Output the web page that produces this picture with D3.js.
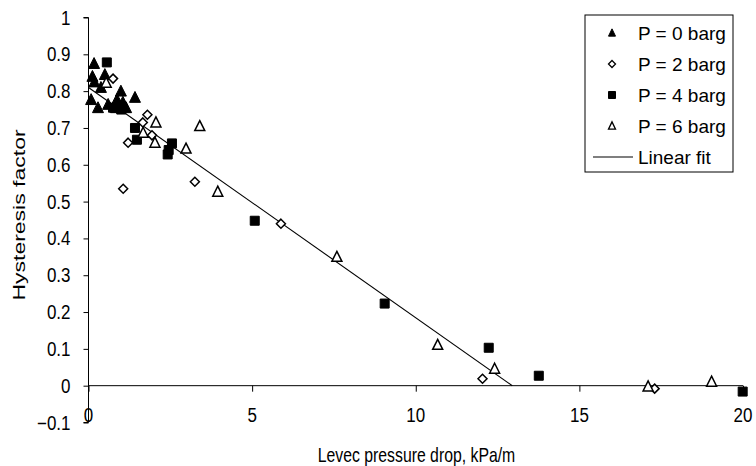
<!DOCTYPE html>
<html>
<head>
<meta charset="utf-8">
<script src="https://cdn.jsdelivr.net/npm/d3@7"></script>
<style>
  body { margin: 0; background: #fff; }
  svg { font-family: "Liberation Sans", Arial, sans-serif; }
</style>
</head>
<body>
<div id="chart"></div>
<script>
// data: [pressure drop kPa/m, hysteresis factor]
const p0 = [[0.17, 0.875], [0.12, 0.84], [0.18, 0.825], [0.5, 0.845], [0.38, 0.81], [0.08, 0.777],
    [0.29, 0.755], [0.6, 0.764], [0.87, 0.777], [0.99, 0.80], [0.84, 0.755], [1.15, 0.755],
    [1.42, 0.783], [1.05, 0.77]];
const p2 = [[0.75, 0.834], [1.8, 0.736], [1.66, 0.715], [1.94, 0.68], [1.21, 0.66], [1.06, 0.535],
    [3.25, 0.554], [5.88, 0.44], [12.04, 0.019], [17.3, -0.008]];
const p4 = [[0.56, 0.878], [0.75, 0.755], [1.0, 0.75], [1.42, 0.70], [1.48, 0.668], [2.55, 0.658],
    [2.45, 0.64], [2.42, 0.628], [5.08, 0.448], [9.05, 0.223], [12.23, 0.103], [13.76, 0.027],
    [19.99, -0.016]];
const p6 = [[0.54, 0.823], [2.06, 0.715], [1.67, 0.687], [2.03, 0.66], [2.98, 0.644], [3.4, 0.705],
    [3.95, 0.527], [7.59, 0.35], [10.67, 0.111], [12.41, 0.046], [17.1, -0.002], [19.04, 0.011]];
const fitLine = [[0, 0.81], [12.95, 0.0]];

const xTicks = [0, 5, 10, 15, 20];
const yTicks = [-0.1, 0, 0.1, 0.2, 0.3, 0.4, 0.5, 0.6, 0.7, 0.8, 0.9, 1];
const legendLabels = ["P = 0 barg", "P = 2 barg", "P = 4 barg", "P = 6 barg", "Linear fit"];

const W = 756, H = 466;
const svg = d3.select("#chart").append("svg")
    .attr("width", W)
    .attr("height", H);

const x = d3.scaleLinear().domain([0, 20]).range([88.5, 743]);
const y = d3.scaleLinear().domain([-0.1, 1]).range([422.5, 17.5]);

// the original text is a bit squashed sideways
const TICK_FS = 19.5, TICK_SX = 0.87;

// marker shapes, centred on 0,0
function shape(kind, s) {
    if (kind === "tri") {
        const h = s * 0.9;
        return `M0,${-h / 2 - 1}L${s / 2},${h / 2}L${-s / 2},${h / 2}Z`;
    }
    if (kind === "dia") {
        const r = s / 2;
        return `M0,${-r}L${r},0L0,${r}L${-r},0Z`;
    }
    const r = s / 2;
    return `M${-r},${-r}H${r}V${r}H${-r}Z`;
}

const series = [
    { data: p0, kind: "tri", fill: "#000", size: 11 },
    { data: p2, kind: "dia", fill: "#fff", size: 9 },
    { data: p4, kind: "sq", fill: "#000", size: 9 },
    { data: p6, kind: "tri", fill: "#fff", size: 10 }
];

// y axis (lines only, labels drawn below)
const yAxis = svg.append("g")
    .attr("transform", `translate(${x(0)},0)`)
    .call(d3.axisLeft(y).tickValues(yTicks).tickSize(5).tickFormat(""));
yAxis.select(".domain").attr("d", `M-5,${y(1)}H0V${y(-0.1)}H-5`);

// x axis along y = 0
const xAxis = svg.append("g")
    .attr("transform", `translate(0,${y(0)})`)
    .call(d3.axisBottom(x).tickValues(xTicks).tickSize(6).tickFormat(""));
xAxis.select(".domain").attr("d", `M${x(0)},0H${x(20)}`);

svg.selectAll(".domain, .tick line").attr("stroke", "#000").attr("stroke-width", 1);

svg.append("g").selectAll("text")
    .data(yTicks)
    .join("text")
    .attr("transform", d => `translate(70.5,${y(d) + 7}) scale(${TICK_SX},1)`)
    .attr("text-anchor", "end")
    .attr("font-size", TICK_FS)
    .text(d => d3.format("")(+d.toFixed(1)));

svg.append("g").selectAll("text")
    .data(xTicks)
    .join("text")
    .attr("transform", d => `translate(${x(d)},${y(0) + 36}) scale(${TICK_SX},1)`)
    .attr("text-anchor", "middle")
    .attr("font-size", TICK_FS)
    .text(d => d);

// linear fit
svg.append("path")
    .datum(fitLine)
    .attr("fill", "none")
    .attr("stroke", "#000")
    .attr("stroke-width", 1.1)
    .attr("d", d3.line().x(d => x(d[0])).y(d => y(d[1])));

// points
series.forEach(s => {
    svg.append("g").selectAll("path")
        .data(s.data)
        .join("path")
        .attr("d", shape(s.kind, s.size))
        .attr("transform", d => `translate(${x(d[0])},${y(d[1])})`)
        .attr("fill", s.fill)
        .attr("stroke", "#000")
        .attr("stroke-width", s.fill === "#fff" ? 1.5 : 1);
});

// axis titles
svg.append("text")
    .attr("transform", "translate(24.5,215) rotate(-90) scale(1,0.69)")
    .attr("text-anchor", "middle")
    .attr("font-size", 23)
    .text("Hysteresis factor");

svg.append("text")
    .attr("transform", `translate(416.5,462) scale(0.79,1)`)
    .attr("text-anchor", "middle")
    .attr("font-size", 20)
    .text("Levec pressure drop, kPa/m");

// legend
const legend = svg.append("g").attr("transform", "translate(585,15)");
legend.append("rect")
    .attr("width", 148)
    .attr("height", 157)
    .attr("fill", "#fff")
    .attr("stroke", "#000");

const legendY = d3.scalePoint().domain(legendLabels).range([18, 142]);
legendLabels.forEach((lab, i) => {
    const ly = legendY(lab);
    if (i < 4) {
        const s = series[i];
        legend.append("path")
            .attr("d", shape(s.kind, 7))
            .attr("transform", `translate(27,${ly})`)
            .attr("fill", s.fill)
            .attr("stroke", "#000")
            .attr("stroke-width", s.fill === "#fff" ? 1.3 : 1);
    } else {
        legend.append("line")
            .attr("x1", 8).attr("x2", 48)
            .attr("y1", ly).attr("y2", ly)
            .attr("stroke", "#000")
            .attr("stroke-width", 1.2);
    }
    legend.append("text")
        .attr("x", 53)
        .attr("y", ly + 6.5)
        .attr("font-size", 19)
        .text(lab);
});
</script>
</body>
</html>
